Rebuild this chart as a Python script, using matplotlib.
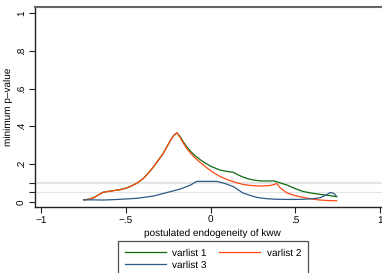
import matplotlib
matplotlib.use("Agg")
import matplotlib.pyplot as plt
from matplotlib.lines import Line2D

# Data
x12 = [-0.75, -0.72, -0.69, -0.66, -0.636, -0.61, -0.58, -0.536, -0.50, -0.477, -0.437, -0.40, -0.37, -0.339, -0.31, -0.28, -0.26, -0.24, -0.22, -0.20]
y12 = [0.010, 0.013, 0.022, 0.038, 0.050, 0.054, 0.058, 0.064, 0.072, 0.080, 0.098, 0.122, 0.150, 0.184, 0.220, 0.257, 0.290, 0.322, 0.350, 0.366]

x1_tail = [-0.18, -0.16, -0.142, -0.12, -0.09, -0.06, -0.044, -0.02, 0.0, 0.03, 0.055, 0.10, 0.134, 0.16, 0.19, 0.22, 0.252, 0.30, 0.35, 0.37, 0.39, 0.42, 0.449, 0.50, 0.547, 0.60, 0.646, 0.70, 0.744]
y1_tail = [0.345, 0.315, 0.292, 0.268, 0.242, 0.222, 0.212, 0.199, 0.188, 0.177, 0.168, 0.160, 0.156, 0.143, 0.131, 0.122, 0.115, 0.110, 0.110, 0.111, 0.106, 0.097, 0.089, 0.069, 0.054, 0.045, 0.039, 0.033, 0.027]

x2_tail = [-0.18, -0.16, -0.142, -0.12, -0.09, -0.06, -0.044, -0.02, 0.0, 0.03, 0.055, 0.10, 0.134, 0.16, 0.19, 0.22, 0.252, 0.30, 0.35, 0.37, 0.39, 0.41, 0.449, 0.50, 0.547, 0.60, 0.646, 0.70, 0.744]
y2_tail = [0.340, 0.308, 0.283, 0.258, 0.230, 0.207, 0.195, 0.178, 0.164, 0.147, 0.134, 0.117, 0.106, 0.099, 0.092, 0.088, 0.085, 0.083, 0.086, 0.090, 0.097, 0.074, 0.047, 0.032, 0.023, 0.014, 0.009, 0.006, 0.005]

x1 = x12 + x1_tail
y1 = y12 + y1_tail
x2 = x12 + x2_tail
y2 = y12 + y2_tail

x3 = [-0.75, -0.70, -0.636, -0.55, -0.437, -0.339, -0.24, -0.181, -0.12, -0.083, 0.0, 0.035, 0.08, 0.134, 0.193, 0.272, 0.33, 0.39, 0.47, 0.547, 0.60, 0.646, 0.68, 0.705, 0.72, 0.734, 0.744]
y3 = [0.010, 0.010, 0.009, 0.012, 0.018, 0.030, 0.053, 0.067, 0.088, 0.108, 0.108, 0.108, 0.098, 0.080, 0.045, 0.023, 0.016, 0.013, 0.012, 0.013, 0.016, 0.021, 0.035, 0.048, 0.047, 0.039, 0.027]

labels = ["varlist 1", "varlist 2", "varlist 3"]
colors = ["#0f6a0f", "#ff4a12", "#2f5a86"]
xticks = [-1, -0.5, 0, 0.5, 1]
xticklabels = ["\u22121", "\u2212.5", "0", ".5", "1"]
yticks = [0, 0.2, 0.4, 0.6, 0.8, 1]
yticklabels = ["0", ".2", ".4", ".6", ".8", "1"]
reflines = [0.1, 0.05]

plt.rcParams['font.family'] = ['Liberation Sans', 'DejaVu Sans']
plt.rcParams['text.hinting'] = 'no_hinting'
plt.rcParams['text.hinting_factor'] = 1
FS = 7.4

fig = plt.figure(figsize=(3.82, 2.73), dpi=100)
ax = fig.add_axes([35/382, 66/273, 355/382, 200/273])

for r, lw in zip(reflines, [1.6, 0.8]):
    ax.axhline(r, color="#e4e4e4", lw=lw, zorder=1)

ax.plot(x1, y1, color=colors[0], lw=0.9, zorder=3)
ax.plot(x2, y2, color=colors[1], lw=0.9, zorder=3)
ax.plot(x3, y3, color=colors[2], lw=0.9, zorder=3)

ax.set_xlim(-1.038, 1.059)
ax.set_ylim(-0.028, 1.033)

ax.spines['right'].set_visible(False)
for s in ['left', 'bottom', 'top']:
    ax.spines[s].set_color("#222222")
    ax.spines[s].set_linewidth(1.0)
ax.spines['top'].set_color("#666666")
ax.spines['top'].set_linewidth(1.5)

ax.set_xticks(xticks)
ax.set_xticklabels(xticklabels, fontsize=FS)
ax.set_yticks(yticks)
ax.set_yticklabels(yticklabels, fontsize=FS, rotation=90, va='center')
ax.set_yticks(reflines, minor=True)
ax.tick_params(axis='both', which='major', length=4, width=0.8, color="#222222", pad=2)
ax.tick_params(axis='y', which='minor', length=4, width=0.8, color="#222222")

ax.set_xlabel("postulated endogeneity of kww", fontsize=FS, labelpad=3)
ax.set_ylabel("minimum p\u2013value", fontsize=FS, labelpad=3)

handles = [Line2D([], [], color=c, lw=0.9) for c in colors]
order = [0, 2, 1]
leg = fig.legend([handles[i] for i in order], [labels[i] for i in order],
                 loc='upper left', bbox_to_anchor=(118/382, 1 - 241/273), borderaxespad=0,
                 ncol=2, fontsize=FS, frameon=True, fancybox=False, edgecolor="#222222",
                 handlelength=4.0, columnspacing=1.2, borderpad=0.7, labelspacing=0.3,
                 handletextpad=0.6)
leg.get_frame().set_linewidth(0.9)

fig.savefig("out.png", dpi=100, facecolor="white")
